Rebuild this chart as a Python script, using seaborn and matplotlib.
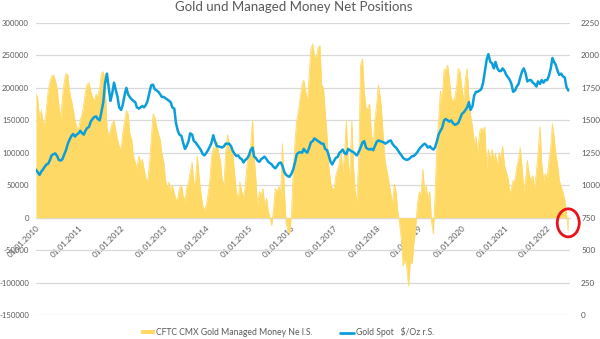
import numpy as np
import pandas as pd
import matplotlib
matplotlib.use("Agg")
import matplotlib.pyplot as plt
import matplotlib.dates as mdates
from matplotlib.patches import Patch, Ellipse
from matplotlib.lines import Line2D
from matplotlib.transforms import ScaledTranslation
import seaborn as sns

# ---- data: semi-monthly readings (1st and 15th of each month) ----
# CFTC COMEX gold managed money net positions, in thousands of contracts
net_2010 = [191, 185, 152, 165, 150, 142, 170, 195, 210, 218, 220, 212, 200, 175, 152, 185, 210, 222, 220, 195, 180, 168, 150, 140]
net_2011 = [136, 150, 160, 175, 195, 205, 208, 195, 185, 180, 190, 188, 200, 222, 225, 215, 140, 125, 135, 145, 150, 135, 120, 110]
net_2012 = [105, 130, 150, 165, 160, 130, 120, 95, 85, 75, 95, 85, 90, 75, 60, 55, 85, 120, 160, 155, 140, 130, 120, 100]
net_2013 = [85, 58, 45, 55, 40, 50, 38, 28, 30, 45, 50, 35, 25, 45, 55, 70, 85, 50, 60, 95, 60, 38, 18, 12]
net_2014 = [20, 35, 60, 95, 108, 105, 118, 100, 88, 60, 50, 100, 128, 115, 105, 100, 65, 40, 28, 55, 40, 30, 50, 80]
net_2015 = [100, 110, 150, 95, 60, 18, 40, 35, 45, 20, 30, 10, 0, -12, 15, 45, 40, 48, 40, 114, 40, -8, -20, -25]
net_2016 = [5, 70, 120, 150, 165, 185, 205, 212, 195, 175, 220, 260, 268, 250, 245, 262, 265, 205, 200, 165, 125, 80, 55, 45]
net_2017 = [45, 65, 75, 85, 105, 70, 100, 150, 85, 65, 150, 80, 38, 25, 100, 235, 245, 195, 168, 168, 175, 130, 110, 150]
net_2018 = [175, 205, 185, 155, 115, 85, 70, 55, 38, 20, 52, 40, 8, -8, -35, -75, -62, -78, -105, -70, -70, -40, -15, 20]
net_2019 = [40, 35, 75, 40, 50, 28, 40, -5, -25, 30, 110, 150, 195, 180, 228, 228, 235, 215, 185, 180, 185, 200, 230, 225]
net_2020 = [200, 180, 215, 230, 185, 158, 140, 115, 125, 100, 132, 138, 134, 140, 75, 105, 90, 105, 90, 98, 80, 100, 92, 110]
net_2021 = [80, 70, 60, 38, 45, 57, 58, 78, 90, 108, 75, 40, 60, 88, 65, 58, 65, 45, 70, 100, 140, 85, 58, 68]
net_2022 = [62, 85, 110, 145, 125, 100, 80, 58, 48, 40, 28, 8, -20]

# Gold spot price, USD per ounce
gold_2010 = [1120, 1100, 1080, 1105, 1120, 1140, 1160, 1165, 1195, 1230, 1240, 1245, 1225, 1195, 1190, 1200, 1240, 1270, 1320, 1350, 1380, 1395, 1375, 1390]
gold_2011 = [1400, 1420, 1400, 1390, 1420, 1440, 1450, 1490, 1510, 1525, 1530, 1510, 1500, 1560, 1640, 1780, 1860, 1760, 1650, 1700, 1790, 1740, 1680, 1600]
gold_2012 = [1580, 1620, 1700, 1750, 1700, 1680, 1660, 1650, 1640, 1600, 1590, 1600, 1610, 1600, 1620, 1650, 1720, 1770, 1775, 1740, 1730, 1720, 1700, 1680]
gold_2013 = [1680, 1670, 1660, 1650, 1640, 1600, 1590, 1480, 1420, 1390, 1380, 1330, 1280, 1300, 1340, 1400, 1390, 1340, 1330, 1310, 1290, 1270, 1240, 1230]
gold_2014 = [1250, 1270, 1300, 1330, 1385, 1340, 1300, 1300, 1295, 1290, 1300, 1320, 1320, 1320, 1300, 1265, 1240, 1225, 1230, 1210, 1200, 1175, 1195, 1205]
gold_2015 = [1230, 1270, 1290, 1220, 1210, 1190, 1180, 1200, 1210, 1220, 1200, 1180, 1170, 1160, 1140, 1130, 1150, 1170, 1175, 1150, 1100, 1080, 1070, 1065]
gold_2016 = [1090, 1120, 1180, 1240, 1250, 1255, 1250, 1280, 1260, 1250, 1290, 1330, 1340, 1360, 1350, 1340, 1330, 1320, 1320, 1280, 1270, 1230, 1180, 1160]
gold_2017 = [1190, 1210, 1220, 1250, 1260, 1275, 1245, 1240, 1280, 1270, 1260, 1255, 1240, 1230, 1260, 1290, 1330, 1340, 1290, 1280, 1275, 1280, 1270, 1300]
gold_2018 = [1335, 1345, 1340, 1335, 1330, 1320, 1330, 1340, 1345, 1320, 1300, 1290, 1270, 1250, 1230, 1210, 1200, 1195, 1200, 1210, 1225, 1225, 1240, 1255]
gold_2019 = [1280, 1295, 1310, 1320, 1310, 1290, 1300, 1285, 1275, 1290, 1340, 1390, 1420, 1440, 1500, 1510, 1500, 1490, 1500, 1480, 1465, 1470, 1480, 1510]
gold_2020 = [1550, 1560, 1580, 1600, 1640, 1580, 1610, 1690, 1720, 1720, 1730, 1740, 1790, 1870, 1970, 2010, 1950, 1940, 1900, 1950, 1900, 1880, 1880, 1900]
gold_2021 = [1880, 1850, 1830, 1810, 1780, 1720, 1730, 1760, 1780, 1830, 1880, 1900, 1860, 1800, 1810, 1810, 1790, 1780, 1760, 1800, 1780, 1810, 1790, 1810]
gold_2022 = [1810, 1840, 1900, 1980, 1950, 1930, 1880, 1850, 1860, 1840, 1830, 1760, 1730]

left_ticks = list(range(-150000, 300001, 50000))
right_ticks = list(range(0, 2251, 250))
title = "Gold und Managed Money Net Positions"
label_net = "CFTC CMX Gold Managed Money Ne l.S."
label_gold = "Gold Spot   $/Oz r.S."

net_k = (net_2010 + net_2011 + net_2012 + net_2013 + net_2014 + net_2015 + net_2016
         + net_2017 + net_2018 + net_2019 + net_2020 + net_2021 + net_2022)
gold = (gold_2010 + gold_2011 + gold_2012 + gold_2013 + gold_2014 + gold_2015 + gold_2016
        + gold_2017 + gold_2018 + gold_2019 + gold_2020 + gold_2021 + gold_2022)
dates = pd.date_range("2010-01-01", periods=len(net_k), freq="SMS")
df = pd.DataFrame({"date": dates, "net": np.array(net_k) * 1000.0, "gold": gold})

# ---- style ----
sns.set_style("white")
plt.rcParams["font.family"] = ["Lato", "DejaVu Sans"]
plt.rcParams["axes.unicode_minus"] = False
YELLOW = "#FFD966"
BLUE = "#0C9ED9"
GRID = "#D9D9D9"
TXT = "#595959"

fig = plt.figure(figsize=(6.0, 3.39), dpi=100)
ax = fig.add_axes([36 / 600, 1 - 315 / 339, (570 - 36) / 600, (315 - 23) / 339])
ax2 = ax.twinx()

# yellow area (left axis)
ax.fill_between(df["date"], 0, df["net"], color=YELLOW, lw=0, zorder=2)
sns.lineplot(data=df, x="date", y="net", ax=ax, color=YELLOW, lw=0.6, zorder=2)

# blue gold line (right axis)
sns.lineplot(data=df, x="date", y="gold", ax=ax2, color=BLUE, lw=1.8, zorder=3)

ax.set_ylim(-150000, 300000)
ax2.set_ylim(0, 2250)
ax.set_xlim(pd.Timestamp("2010-01-01"), pd.Timestamp("2022-07-16"))
ax.set_yticks(left_ticks)
ax2.set_yticks(right_ticks)
ax.yaxis.grid(True, color=GRID, lw=0.9)
ax.set_axisbelow(True)
ax.set_xlabel("")
ax.set_ylabel("")
ax2.set_ylabel("")

for a in (ax, ax2):
    for s in a.spines.values():
        s.set_visible(False)
ax.spines["bottom"].set_visible(True)
ax.spines["bottom"].set_position(("data", 0))
ax.spines["bottom"].set_color(GRID)
ax.spines["bottom"].set_linewidth(0.9)
ax.spines["bottom"].set_zorder(1)

ax.xaxis.set_major_locator(mdates.YearLocator())
ax.xaxis.set_major_formatter(mdates.DateFormatter("%d.%m.%Y"))
ax.tick_params(axis="x", length=3, color="#BFBFBF", width=0.8, pad=1.5,
               labelsize=5.9, labelcolor=TXT)
for lab in ax.get_xticklabels():
    lab.set_rotation(45)
    lab.set_ha("right")
    lab.set_va("top")
    lab.set_rotation_mode("anchor")
ax.tick_params(axis="y", length=0, pad=5, labelsize=5.6, labelcolor=TXT)
ax2.tick_params(axis="y", length=0, pad=8, labelsize=5.9, labelcolor=TXT)

fig.text(0.49, 1 - 7 / 339, title, ha="center", va="center", fontsize=9.5, color=TXT)

# red highlight ellipse around the latest value
last = mdates.date2num(df["date"].iloc[-1])
ell = Ellipse((0, 0), width=0.22, height=0.28, fill=False, edgecolor="#E8141B", lw=2.0,
              transform=fig.dpi_scale_trans + ScaledTranslation(last, -8000, ax.transData),
              clip_on=False, zorder=5)
ax2.add_artist(ell)

handles = [Patch(facecolor=YELLOW, edgecolor="none"), Line2D([0], [0], color=BLUE, lw=2)]
fig.legend(handles, [label_net, label_gold], loc="center", bbox_to_anchor=(0.479, 0.02),
           ncol=2, frameon=False, fontsize=6.2, labelcolor=TXT, handlelength=1.6,
           handleheight=0.35, handletextpad=0.2, columnspacing=3.2)

fig.savefig("out.png", dpi=100)
